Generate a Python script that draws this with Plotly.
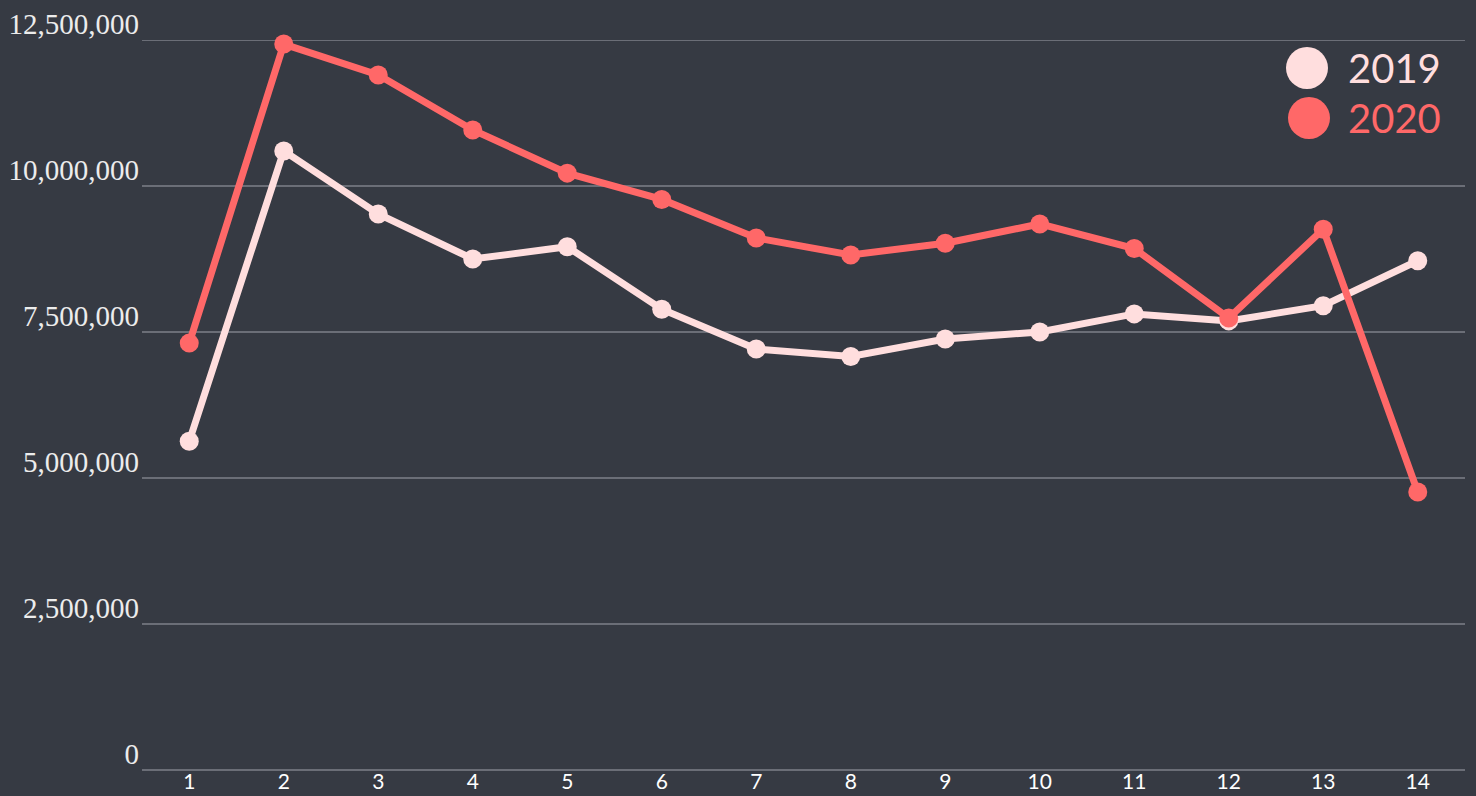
import plotly.graph_objects as go

weeks = list(range(1, 15))
tick_labels = [str(w) for w in weeks]
values_2019 = [5630000, 10600000, 9520000, 8750000, 8960000, 7890000, 7210000,
               7080000, 7380000, 7500000, 7810000, 7690000, 7950000, 8720000]
values_2020 = [7310000, 12430000, 11900000, 10960000, 10220000, 9770000, 9110000,
               8820000, 9020000, 9350000, 8930000, 7740000, 9260000, 4760000]
y_ticks = [0, 2500000, 5000000, 7500000, 10000000, 12500000]
y_tick_text = ["0", "2,500,000", "5,000,000", "7,500,000", "10,000,000", "12,500,000"]
series = [("2019", values_2019, "#ffdede"), ("2020", values_2020, "#ff6868")]

BG = "#363a43"
GRID = "#6b6e77"

fig = go.Figure()
for name, vals, col in series:
    fig.add_trace(go.Scatter(
        x=weeks, y=vals, name=name, mode="lines+markers",
        line=dict(color=col, width=7),
        marker=dict(color=col, size=19),
        cliponaxis=False, showlegend=False,
    ))

W, H = 1476, 796
ml, mr, mt, mb = 142, 11, 40, 26
pw, ph = W - ml - mr, H - mt - mb

def px(x):
    return (x - ml) / pw

def py(y):
    return (H - mb - y) / ph

# top gridline (plotly clips grid lines lying exactly on the plot edge)
shapes = [dict(type="line", xref="paper", yref="y", x0=0, x1=1,
               y0=y_ticks[-1], y1=y_ticks[-1], layer="below",
               line=dict(color=GRID, width=2))]
annotations = []
legend_pos = [(1307, 68), (1309, 118)]
for (name, vals, col), (cx, cy) in zip(series, legend_pos):
    shapes.append(dict(type="circle", xref="paper", yref="paper",
                       xsizemode="pixel", ysizemode="pixel",
                       xanchor=px(cx), yanchor=py(cy),
                       x0=-21, x1=21, y0=-21, y1=21,
                       fillcolor=col, line=dict(width=0)))
    annotations.append(dict(text=name, xref="paper", yref="paper",
                            x=px(1346), y=py(cy), xanchor="left", yanchor="middle",
                            showarrow=False,
                            font=dict(family="Lato", size=40, color=col)))

fig.update_layout(
    width=W, height=H,
    margin=dict(l=ml, r=mr, t=mt, b=mb, pad=0, autoexpand=False),
    paper_bgcolor=BG, plot_bgcolor=BG,
    shapes=shapes, annotations=annotations,
    xaxis=dict(range=[0.5, 14.5], tickmode="array", tickvals=weeks, ticktext=tick_labels,
               showgrid=False, zeroline=False, showline=False, ticks="", automargin=False,
               ticklabelstandoff=-3,
               tickfont=dict(family="Lato", size=21, color="#ffffff")),
    yaxis=dict(range=[0, 12500000], tickmode="array", tickvals=y_ticks, ticktext=y_tick_text,
               showgrid=True, gridcolor=GRID, gridwidth=2,
               zeroline=True, zerolinecolor=GRID, zerolinewidth=2, automargin=False,
               showline=False, ticks="", ticklabelshift=-16, ticklabelstandoff=2,
               tickfont=dict(family="Liberation Serif", size=29, color="#ececec")),
)

fig.write_html("out.html", config={"displayModeBar": False},
               post_script="document.body.style.margin='0px';document.body.style.overflow='hidden';")
